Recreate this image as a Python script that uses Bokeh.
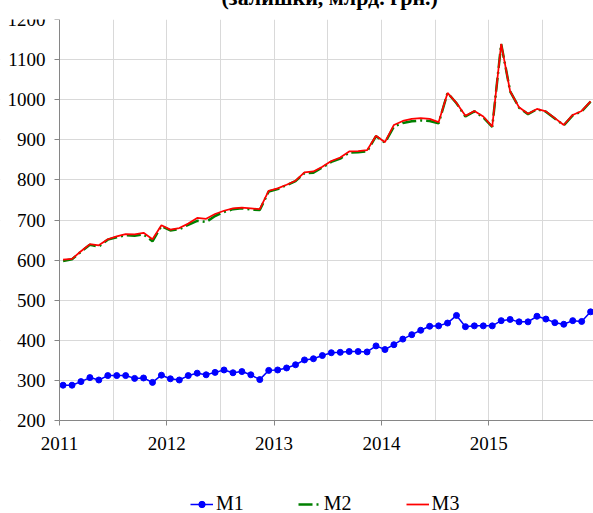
import numpy as np
from bokeh.plotting import figure
from bokeh.models import Range1d, FixedTicker, Legend, LegendItem, BoxAnnotation
from bokeh.embed import file_html
from bokeh.resources import INLINE

title_text = "(залишки, млрд. грн.)"
years = [2011, 2012, 2013, 2014, 2015]
y_ticks = [200, 300, 400, 500, 600, 700, 800, 900, 1000, 1100, 1200]

M1 = [288, 288, 297, 307, 301, 312, 312, 312, 305, 306,
      295, 313, 304, 301, 312, 318, 314, 320, 326, 319,
      322, 314, 302, 325, 326, 331, 339, 351, 354, 362,
      369, 370, 372, 372, 371, 386, 377, 389, 403, 414,
      425, 435, 436, 443, 462, 434, 436, 436, 436, 449,
      452, 446, 446, 460, 453, 444, 440, 449, 447, 471]
M2 = [598, 602, 621, 638, 634, 651, 657, 662, 661, 664,
      647, 685, 674, 677, 688, 698, 695, 710, 720, 727,
      729, 726, 725, 771, 777, 787, 797, 817, 818, 831,
      845, 853, 868, 869, 871, 909, 893, 933, 942, 946,
      948, 947, 941, 1017, 991, 958, 971, 956, 932, 1139,
      1021, 980, 964, 976, 970, 953, 936, 961, 971, 995]
M3 = [601, 603, 622, 640, 637, 652, 659, 665, 664, 668,
      652, 687, 676, 680, 691, 705, 703, 715, 723, 729,
      731, 729, 727, 773, 779, 788, 798, 819, 821, 833,
      847, 856, 871, 872, 874, 910, 894, 937, 947, 952,
      954, 952, 944, 1017, 992, 960, 972, 958, 933, 1139,
      1021, 981, 965, 977, 971, 954, 937, 962, 972, 996]

x = years[0] + (np.arange(len(M1)) + 0.4) / 12.0

FONT = "Liberation Serif"
Y0, Y1 = y_ticks[0], y_ticks[-1]
X0, X1 = years[0], 2015.977
# frame covers the whole canvas; the axes sit at fixed places inside it
y_start = Y0 - 93 * (Y1 - Y0) / 401.0
x_start = X0 - 59 * (X1 - X0) / 534.0

# The reference's title is cut off by the top of the picture: the canvas is
# 32px taller than the window and pulled up by 32px, so only its lower part shows.
p = figure(width=593, height=545, output_backend="svg", toolbar_location=None,
           x_range=Range1d(x_start, X1), y_range=Range1d(y_start, Y1),
           min_border_left=0, min_border_right=0, min_border_top=51, min_border_bottom=0,
           margin=(-32, 0, 0, 0))
p.background_fill_color = "white"
p.border_fill_color = "white"
p.outline_line_color = None

p.title.text = title_text
p.title.text_font = FONT
p.title.text_font_style = "bold"
p.title.text_font_size = "22px"
p.title.text_color = "black"
p.title.align = "left"
p.title.offset = 221
p.title.standoff = 20

p.xaxis.ticker = FixedTicker(ticks=years)
p.xaxis.fixed_location = Y0
p.xaxis.bounds = (X0, X1)
p.yaxis.ticker = FixedTicker(ticks=y_ticks)
p.yaxis.fixed_location = X0
p.yaxis.bounds = (Y0, Y1)
p.xgrid.ticker = FixedTicker(ticks=[y + h for y in years for h in (0.0, 0.5)])
p.ygrid.ticker = FixedTicker(ticks=y_ticks)
p.xgrid.grid_line_color = "#d9d9d9"
p.ygrid.grid_line_color = "#d9d9d9"

# white covers for the grid outside the plot area (tick-label and legend room)
p.add_layout(BoxAnnotation(top=Y0, fill_color="white", fill_alpha=1.0,
                           line_color=None, level="underlay"))
p.add_layout(BoxAnnotation(right=X0, fill_color="white", fill_alpha=1.0,
                           line_color=None, level="underlay"))

for ax in (p.xaxis, p.yaxis):
    ax.axis_line_color = "#868686"
    ax.major_tick_line_color = "#868686"
    ax.major_tick_out = 5
    ax.major_tick_in = 0
    ax.minor_tick_line_color = None
    ax.major_label_text_font = FONT
    ax.major_label_text_font_size = "19px"
    ax.major_label_text_color = "black"
p.yaxis.major_label_standoff = 9
p.xaxis.major_label_standoff = 11

r1 = p.line(x, M1, line_color="#0000ff", line_width=1.5)
r1s = p.scatter(x, M1, size=6, marker="circle", fill_color="#0000ff", line_color="#0000ff")
r2 = p.line(x, M2, line_color="#008000", line_width=2.5, line_dash="14 4 2 4")
r3 = p.line(x, M3, line_color="#ff0000", line_width=1.75)

legend = Legend(items=[LegendItem(label="M1", renderers=[r1, r1s]),
                       LegendItem(label="M2", renderers=[r2]),
                       LegendItem(label="M3", renderers=[r3])],
                orientation="horizontal", location=(190, -2),
                glyph_width=23, glyph_height=16, label_standoff=3, spacing=54,
                padding=0, margin=0, border_line_color=None, background_fill_alpha=0,
                label_text_font=FONT, label_text_font_size="20px", label_text_color="black")
p.add_layout(legend)

open("out.html", "w").write(file_html(p, INLINE))
